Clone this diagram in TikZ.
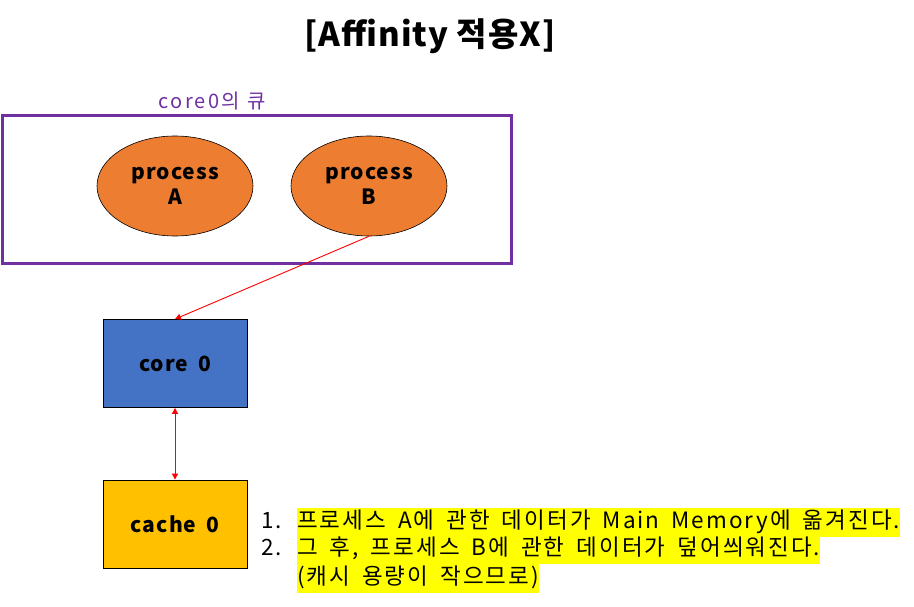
\documentclass[tikz,border=0pt]{standalone}
\usepackage{fontspec}
\setmainfont{Noto Sans CJK KR}
\usetikzlibrary{shapes.geometric,arrows.meta}
\definecolor{qpurple}{HTML}{7030A0}
\definecolor{porange}{HTML}{ED7D31}
\definecolor{cblue}{HTML}{4472C4}
\definecolor{cyellow}{HTML}{FFC000}
\definecolor{hl}{HTML}{FFFF00}
\newcommand\mylistfont{\fontsize{22.5pt}{24pt}\selectfont\addfontfeature{LetterSpace=9}\spaceskip 12pt\relax}
\tikzset{
  proc/.style={ellipse, draw=black, line width=0.6pt, fill=porange, minimum width=156pt, minimum height=100pt, align=center, font=\fontsize{21pt}{25pt}\selectfont\bfseries\addfontfeature{LetterSpace=5}, inner sep=0pt},
  unit/.style={rectangle, draw=black, line width=0.8pt, minimum width=144pt, minimum height=88pt, font=\fontsize{21pt}{24pt}\selectfont\bfseries\addfontfeature{LetterSpace=5}, inner sep=0pt},
  rarrow/.style={draw=red, line width=0.9pt, -{Triangle[length=6pt,width=6pt]}},
  listtxt/.style={anchor=west, font=\mylistfont, inner sep=0pt, text height=21pt, text depth=8pt},
  hltxt/.style={listtxt, fill=hl}
}
\begin{document}
\begin{tikzpicture}[x=1pt,y=-1pt]
\useasboundingbox (0,0) rectangle (914,607);
\node[font=\fontsize{33pt}{36pt}\selectfont\bfseries\addfontfeature{LetterSpace=3}] (title) at (430,36) {[Affinity 적용X]};
\node[font=\fontsize{20pt}{22pt}\selectfont\addfontfeature{LetterSpace=12}, text=qpurple] (qlabel) at (212,101) {core0의 큐};
\node[draw=qpurple, line width=3pt, minimum width=509pt, minimum height=147pt, inner sep=0pt] (queue) at (256.5,189.5) {};
\node[proc] (pa) at (175,186) {process\\A};
\node[proc] (pb) at (369,186) {process\\B};
\node[unit, fill=cblue] (core) at (175,363.5) {core\hspace{4pt} 0};
\node[unit, fill=cyellow] (cache) at (175,524) {cache\hspace{4pt} 0};
\draw[rarrow] (pb.south) -- (core.north);
\draw[draw=red, line width=0.9pt, {Triangle[length=6pt,width=6pt]}-{Triangle[length=6pt,width=6pt]}] (core.south) -- (cache.north);
\node[listtxt] (n1) at (261,522) {1.};
\node[listtxt] (n2) at (261,549) {2.};
\node[hltxt] (l1) at (297,522) {프로세스 A에 관한 데이터가 Main Memory에 옮겨진다.};
\node[hltxt] (l2) at (297,549) {그 후, 프로세스 B에 관한 데이터가 덮어씌워진다.};
\node[hltxt] (l3) at (297,578) {(캐시 용량이 작으므로)};
\end{tikzpicture}
\end{document}
